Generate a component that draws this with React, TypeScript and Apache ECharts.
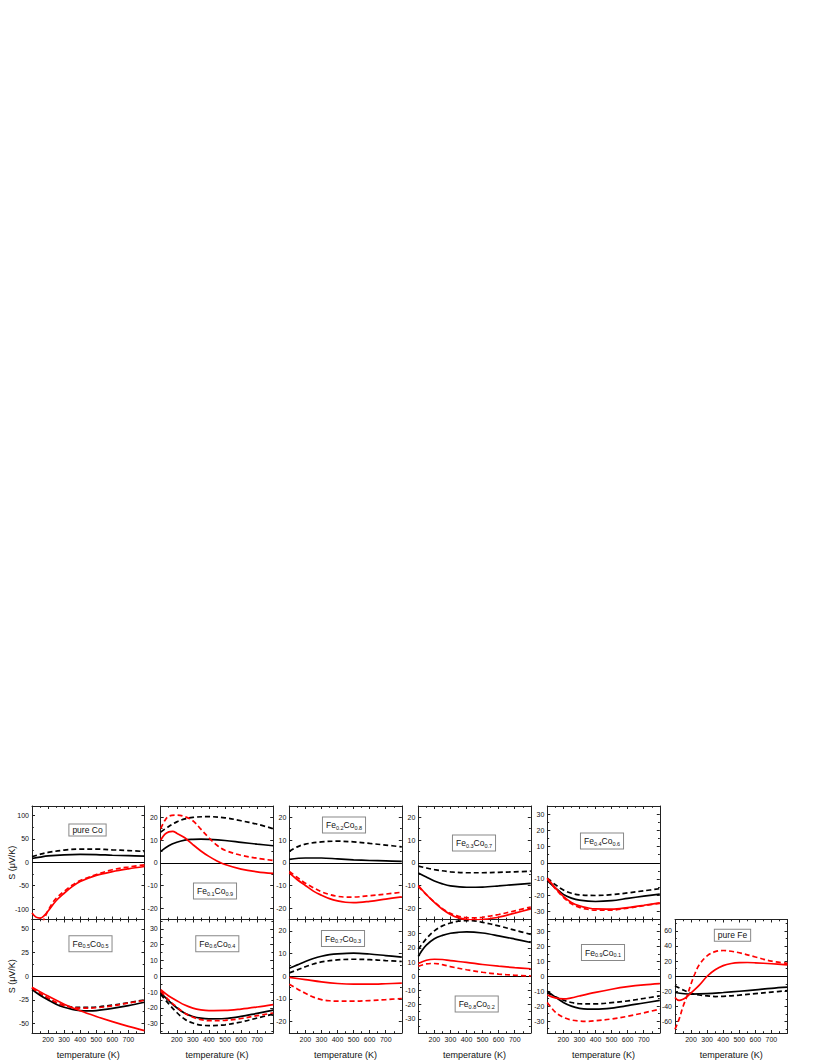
import React, { useEffect, useRef } from "react";
import * as echarts from "echarts";

const FONT = 'Arial, "Liberation Sans", Helvetica, sans-serif';

// ---- x axis (temperature, K) ----
const xMajorTicks = [100, 200, 300, 400, 500, 600, 700, 800];
const xMinorTicks = [150, 250, 350, 450, 550, 650, 750];
const xTickLabels = [200, 300, 400, 500, 600, 700];

// ---- y tick sets ----
const yTicksCo = [-100, -50, 0, 50, 100];
const yMinorCo = [-75, -25, 25, 75];
const yTicks20 = [-20, -10, 0, 10, 20];
const yMinor20 = [-25, -15, -5, 5, 15, 25];
const yTicks30 = [-30, -20, -10, 0, 10, 20, 30];
const yMinor30 = [-35, -25, -15, -5, 5, 15, 25, 35];
const yTicks50 = [-50, -25, 0, 25, 50];
const yMinor50 = [-37.5, -12.5, 12.5, 37.5];
const yTicksFe = [-60, -40, -20, 0, 20, 40, 60];
const yMinorFe = [-70, -50, -30, -10, 10, 30, 50, 70];

// ---- y ranges ----
const rangeCo = [-122, 120];
const range25 = [-25, 25];
const range35 = [-35, 35];
const range60 = [-60, 60];
const range36 = [-36, 36];
const range40 = [-40, 40];
const range38 = [-38, 38];
const rangeFe = [-75, 75];

// ---- pure Co ----
const coBlackSolid = [[100, 8], [150, 11], [200, 13.5], [300, 16], [400, 17], [500, 16.5], [600, 15], [700, 14], [800, 13]];
const coBlackDash = [[100, 12], [150, 17], [200, 21], [300, 26], [400, 28], [500, 28], [600, 26.5], [700, 25], [800, 23]];
const coRedSolid = [[100, -108], [125, -117], [150, -119], [175, -114], [200, -104], [250, -82], [300, -66], [350, -52], [400, -41], [500, -28], [600, -20], [700, -14], [800, -9]];
const coRedDash = [[165, -130], [180, -117], [200, -103], [225, -88], [250, -77], [300, -62], [350, -49], [400, -39], [500, -26], [600, -16], [700, -10], [800, -5.5]];

// ---- Fe0.1Co0.9 ----
const fe1BlackSolid = [[100, 5], [150, 7.5], [200, 9], [250, 10], [300, 10.3], [350, 10.4], [400, 10.3], [500, 9.8], [600, 9], [700, 8.2], [800, 7.5]];
const fe1BlackDash = [[100, 13.5], [150, 16], [200, 18], [250, 19.3], [300, 20], [400, 20.3], [500, 19.8], [600, 18.5], [700, 17], [800, 15]];
const fe1RedSolid = [[100, 10], [125, 12.5], [150, 13.6], [175, 13.8], [200, 13], [250, 11], [300, 8], [350, 5.2], [400, 2.8], [450, 0.8], [500, -0.8], [600, -2.8], [700, -4], [800, -4.7]];
const fe1RedDash = [[100, 15], [125, 18.5], [150, 20.5], [200, 21], [250, 20.3], [300, 18.5], [350, 14.8], [400, 11], [450, 7.7], [500, 5.5], [600, 3.3], [700, 2], [800, 1]];

// ---- Fe0.2Co0.8 ----
const fe2BlackSolid = [[100, 1.5], [200, 2.1], [300, 2.1], [400, 1.7], [500, 1.3], [600, 1], [700, 0.8], [800, 0.6]];
const fe2BlackDash = [[100, 5], [150, 7], [200, 8.2], [300, 9.2], [400, 9.5], [500, 9.2], [600, 8.5], [700, 7.8], [800, 7]];
const fe2RedSolid = [[100, -4.5], [150, -7.5], [200, -10], [250, -12.5], [300, -14.3], [350, -15.8], [400, -16.8], [450, -17.4], [500, -17.6], [600, -17], [700, -16], [800, -15]];
const fe2RedDash = [[100, -3.8], [150, -6.5], [200, -9], [250, -11], [300, -12.8], [350, -14], [400, -14.8], [450, -15.1], [500, -15.1], [600, -14.5], [700, -13.8], [800, -13]];

// ---- Fe0.3Co0.7 ----
const fe3BlackSolid = [[100, -4.5], [150, -6.3], [200, -8], [250, -9.3], [300, -10.2], [400, -10.8], [500, -10.7], [600, -10.2], [700, -9.6], [800, -9.1]];
const fe3BlackDash = [[100, -1.5], [150, -2.3], [200, -3], [300, -4], [400, -4.4], [500, -4.4], [600, -4.2], [700, -4], [800, -3.7]];
const fe3RedSolid = [[100, -10], [150, -14], [200, -17.5], [250, -20.5], [300, -22.8], [350, -24.3], [400, -25], [450, -25.2], [500, -25], [600, -24], [700, -22.2], [800, -20.3]];
const fe3RedDash = [[100, -10.5], [150, -14], [200, -17.3], [250, -20.2], [300, -22.3], [350, -23.6], [400, -24.2], [450, -24.3], [500, -24], [600, -22.8], [700, -21.2], [800, -19.5]];

// ---- Fe0.4Co0.6 ----
const fe4BlackSolid = [[100, -11], [150, -15.5], [200, -19.5], [250, -21.8], [300, -23.1], [400, -23.9], [500, -23.4], [600, -22], [700, -20.6], [800, -19.3]];
const fe4BlackDash = [[100, -9.5], [150, -13.5], [200, -16.8], [250, -18.8], [300, -19.8], [400, -20.2], [500, -19.7], [600, -18.6], [700, -17.3], [800, -16]];
const fe4RedSolid = [[100, -9.5], [150, -15.5], [200, -20.8], [250, -24.5], [300, -26.6], [350, -27.8], [400, -28.5], [500, -28.6], [600, -27.6], [700, -26.2], [800, -24.7]];
const fe4RedDash = [[100, -10], [150, -16], [200, -21.3], [250, -25.3], [300, -27.5], [350, -28.7], [400, -29.3], [500, -29.2], [600, -28], [700, -26.5], [800, -25]];

// ---- Fe0.5Co0.5 ----
const fe5BlackSolid = [[100, -14], [150, -20], [200, -25], [250, -29.5], [300, -32.8], [350, -35], [400, -36.3], [450, -36.6], [500, -36.3], [600, -34], [700, -31], [800, -27.5]];
const fe5BlackDash = [[100, -12.5], [150, -18.5], [200, -23.5], [250, -28], [300, -31], [350, -32.5], [400, -33], [500, -32.5], [600, -30.5], [700, -28], [800, -25]];
const fe5RedSolid = [[100, -11.5], [200, -21], [300, -29.5], [400, -36.5], [500, -42.5], [600, -48], [700, -53], [800, -57.5]];
const fe5RedDash = [[100, -12.5], [150, -18], [200, -23], [250, -27.5], [300, -31], [350, -33], [400, -33.8], [500, -33.3], [600, -31.3], [700, -28.3], [800, -25.5]];

// ---- Fe0.6Co0.4 ----
const fe6BlackSolid = [[100, -10.5], [150, -15.5], [200, -20], [250, -23.5], [300, -25.5], [350, -26.6], [400, -27], [500, -26.8], [600, -25.5], [700, -23.5], [800, -21.5]];
const fe6BlackDash = [[100, -11.5], [150, -17.5], [200, -23], [250, -27.3], [300, -29.7], [350, -31], [400, -31.3], [500, -30.8], [600, -29], [700, -26.5], [800, -24]];
const fe6RedSolid = [[100, -8.5], [150, -12.5], [200, -15.5], [250, -18.3], [300, -20.2], [350, -21.3], [400, -21.8], [500, -21.7], [600, -20.8], [700, -19.5], [800, -18]];
const fe6RedDash = [[100, -9.5], [150, -15], [200, -19.5], [250, -23.5], [300, -26], [350, -27.5], [400, -28.2], [500, -28], [600, -26.8], [700, -25], [800, -23.3]];

// ---- Fe0.7Co0.3 ----
const fe7BlackSolid = [[100, 3.5], [150, 5], [200, 6.5], [250, 7.8], [300, 8.8], [350, 9.5], [400, 9.9], [500, 10.2], [600, 9.8], [700, 9.1], [800, 8.4]];
const fe7BlackDash = [[100, 1.5], [150, 2.8], [200, 4.2], [250, 5.4], [300, 6.3], [400, 7.2], [500, 7.5], [600, 7.3], [700, 6.9], [800, 6.5]];
const fe7RedSolid = [[100, -0.5], [200, -1.5], [300, -2.5], [400, -3.2], [500, -3.5], [600, -3.5], [700, -3.3], [800, -3]];
const fe7RedDash = [[100, -3.5], [150, -5.6], [200, -7.5], [250, -9.2], [300, -10.3], [350, -10.8], [400, -11], [500, -11], [600, -10.7], [700, -10.3], [800, -9.8]];

// ---- Fe0.8Co0.2 ----
const fe8BlackSolid = [[100, 14], [125, 18.5], [150, 22], [200, 26.5], [250, 28.8], [300, 30.3], [350, 31], [400, 31.3], [500, 30.5], [600, 28.5], [700, 26.2], [800, 23.8]];
const fe8BlackDash = [[100, 19], [150, 26.5], [200, 32], [250, 35.5], [300, 37.5], [350, 38.8], [400, 39.2], [450, 39], [500, 38], [600, 35.5], [700, 32.5], [800, 29.5]];
const fe8RedSolid = [[100, 9], [150, 11.3], [200, 12], [250, 11.8], [300, 11], [400, 9.8], [500, 8.3], [600, 7.1], [700, 6.1], [800, 5.3]];
const fe8RedDash = [[100, 7], [150, 8.7], [200, 9], [250, 8.2], [300, 6.8], [400, 4.6], [500, 2.8], [600, 1.5], [700, 0.7], [800, 0.2]];

// ---- Fe0.9Co0.1 ----
const fe9BlackSolid = [[100, -10], [150, -14], [200, -17.5], [250, -20], [300, -21.5], [350, -22], [400, -22], [500, -21.3], [600, -19.7], [700, -17.9], [800, -16.2]];
const fe9BlackDash = [[100, -11], [150, -13.8], [200, -16], [250, -17.6], [300, -18.4], [400, -18.5], [500, -17.7], [600, -16.5], [700, -14.9], [800, -13.2]];
const fe9RedSolid = [[100, -12.5], [150, -14.5], [200, -15.2], [250, -14.5], [300, -13.2], [400, -10.8], [500, -8.7], [600, -7], [700, -5.8], [800, -5]];
const fe9RedDash = [[100, -17.5], [150, -24], [200, -27.5], [250, -29.3], [300, -30], [350, -30.2], [400, -29.8], [500, -28.6], [600, -26.8], [700, -24.5], [800, -22]];

// ---- pure Fe ----
const feBlackSolid = [[100, -21.5], [200, -23.5], [300, -23], [400, -21.5], [500, -19.8], [600, -18], [700, -16], [800, -14.5]];
const feBlackDash = [[100, -12.5], [150, -18], [200, -22.5], [250, -24.8], [300, -26], [350, -26.8], [400, -26.5], [500, -25], [600, -23], [700, -21], [800, -19]];
const feRedSolid = [[100, -28], [125, -32], [150, -30.5], [175, -27], [200, -22], [250, -12], [300, 0], [350, 8.5], [400, 14], [450, 16.8], [500, 18], [550, 18.2], [600, 17.8], [700, 16.5], [800, 15]];
const feRedDash = [[100, -70], [125, -57], [150, -40], [175, -26], [200, -10], [225, 4], [250, 15], [300, 27], [350, 32.5], [400, 34], [450, 33], [500, 31], [600, 25.5], [700, 20], [800, 17]];

// ---- panel labels ----
const labelCo = [["pure Co", ""]];
const labelFe1 = [["Fe", "0.1"], ["Co", "0.9"]];
const labelFe2 = [["Fe", "0.2"], ["Co", "0.8"]];
const labelFe3 = [["Fe", "0.3"], ["Co", "0.7"]];
const labelFe4 = [["Fe", "0.4"], ["Co", "0.6"]];
const labelFe5 = [["Fe", "0.5"], ["Co", "0.5"]];
const labelFe6 = [["Fe", "0.6"], ["Co", "0.4"]];
const labelFe7 = [["Fe", "0.7"], ["Co", "0.3"]];
const labelFe8 = [["Fe", "0.8"], ["Co", "0.2"]];
const labelFe9 = [["Fe", "0.9"], ["Co", "0.1"]];
const labelFe = [["pure Fe", ""]];

const yTitle = "S (μV/K)";
const xTitle = "temperature (K)";

// ---- layout ----
const COL_LEFT = [32, 160.7, 289.3, 418.3, 547.3, 675];
const ROW_TOP = [806, 919.5];
const PW = 112.5;
const PH = 113.5;

const panels = [
  { col: 0, row: 0, range: rangeCo, ticks: yTicksCo, minor: yMinorCo, s: [coBlackSolid, coBlackDash, coRedSolid, coRedDash], label: labelCo, box: [87.5, 830] },
  { col: 1, row: 0, range: range25, ticks: yTicks20, minor: yMinor20, s: [fe1BlackSolid, fe1BlackDash, fe1RedSolid, fe1RedDash], label: labelFe1, box: [215, 891] },
  { col: 2, row: 0, range: range25, ticks: yTicks20, minor: yMinor20, s: [fe2BlackSolid, fe2BlackDash, fe2RedSolid, fe2RedDash], label: labelFe2, box: [344, 825] },
  { col: 3, row: 0, range: range25, ticks: yTicks20, minor: yMinor20, s: [fe3BlackSolid, fe3BlackDash, fe3RedSolid, fe3RedDash], label: labelFe3, box: [474, 843] },
  { col: 4, row: 0, range: range35, ticks: yTicks30, minor: yMinor30, s: [fe4BlackSolid, fe4BlackDash, fe4RedSolid, fe4RedDash], label: labelFe4, box: [602, 841] },
  { col: 0, row: 1, range: range60, ticks: yTicks50, minor: yMinor50, s: [fe5BlackSolid, fe5BlackDash, fe5RedSolid, fe5RedDash], label: labelFe5, box: [90.5, 943.7] },
  { col: 1, row: 1, range: range36, ticks: yTicks30, minor: yMinor30, s: [fe6BlackSolid, fe6BlackDash, fe6RedSolid, fe6RedDash], label: labelFe6, box: [217.3, 943.7] },
  { col: 2, row: 1, range: range25, ticks: yTicks20, minor: yMinor20, s: [fe7BlackSolid, fe7BlackDash, fe7RedSolid, fe7RedDash], label: labelFe7, box: [343, 938.5] },
  { col: 3, row: 1, range: range40, ticks: yTicks30, minor: yMinor30, s: [fe8BlackSolid, fe8BlackDash, fe8RedSolid, fe8RedDash], label: labelFe8, box: [476.7, 1004] },
  { col: 4, row: 1, range: range38, ticks: yTicks30, minor: yMinor30, s: [fe9BlackSolid, fe9BlackDash, fe9RedSolid, fe9RedDash], label: labelFe9, box: [603, 952.5] },
  { col: 5, row: 1, range: rangeFe, ticks: yTicksFe, minor: yMinorFe, s: [feBlackSolid, feBlackDash, feRedSolid, feRedDash], label: labelFe, box: [732.5, 935.3] },
];

const AXIS_COLOR = "#222";

function xAxisDef(gi: number, pos: string, ticks: number[], len: number, line: boolean, labels: number[] | null) {
  return {
    type: "value", gridIndex: gi, min: 100, max: 800, position: pos,
    axisLine: { show: line, onZero: false, lineStyle: { color: AXIS_COLOR, width: 1 } },
    axisTick: { show: true, inside: true, length: len, customValues: ticks, lineStyle: { color: AXIS_COLOR, width: 1 } },
    axisLabel: labels
      ? { show: true, customValues: labels, fontSize: 7, margin: 3, color: "#111", fontFamily: FONT }
      : { show: false },
    splitLine: { show: false },
  };
}

function yAxisDef(gi: number, pos: string, range: number[], ticks: number[], len: number, line: boolean, labels: number[] | null) {
  return {
    type: "value", gridIndex: gi, min: range[0], max: range[1], position: pos,
    axisLine: { show: line, onZero: false, lineStyle: { color: AXIS_COLOR, width: 1 } },
    axisTick: { show: true, inside: true, length: len, customValues: ticks, lineStyle: { color: AXIS_COLOR, width: 1 } },
    axisLabel: labels
      ? { show: true, customValues: labels, fontSize: 7, margin: 3, color: "#111", fontFamily: FONT }
      : { show: false },
    splitLine: { show: false },
  };
}

function richLabel(parts: string[][]) {
  return parts.map(([m, s]) => `{m|${m}}` + (s ? `{s|${s}}` : "")).join("");
}

function buildOption() {
  const grid: any[] = [];
  const xAxis: any[] = [];
  const yAxis: any[] = [];
  const series: any[] = [];
  const graphic: any[] = [];

  panels.forEach((p, i) => {
    const left = COL_LEFT[p.col];
    const top = ROW_TOP[p.row];
    grid.push({ left, top, width: PW, height: PH, containLabel: false });
    const bottomRow = p.row === 1;
    xAxis.push(xAxisDef(i, "bottom", xMajorTicks, 3, true, bottomRow ? xTickLabels : null));
    xAxis.push(xAxisDef(i, "bottom", xMinorTicks, 1.8, false, null));
    xAxis.push(xAxisDef(i, "top", xMajorTicks, 3, true, null));
    xAxis.push(xAxisDef(i, "top", xMinorTicks, 1.8, false, null));
    yAxis.push(yAxisDef(i, "left", p.range, p.ticks, 3, true, p.ticks));
    yAxis.push(yAxisDef(i, "left", p.range, p.minor, 1.8, false, null));
    yAxis.push(yAxisDef(i, "right", p.range, p.ticks, 3, true, null));
    yAxis.push(yAxisDef(i, "right", p.range, p.minor, 1.8, false, null));

    const styles = [
      { color: "#000", type: "solid" },
      { color: "#000", type: [5, 3] },
      { color: "#ff0000", type: "solid" },
      { color: "#ff0000", type: [5, 3] },
    ];
    p.s.forEach((data, k) => {
      const ser: any = {
        type: "line", xAxisIndex: 4 * i, yAxisIndex: 4 * i, data,
        symbol: "none", showSymbol: false, smooth: 0.35, clip: true, silent: true,
        lineStyle: { color: styles[k].color, width: 1.7, type: styles[k].type },
        z: 3 + k,
      };
      if (k === 0) {
        ser.markLine = {
          silent: true, symbol: ["none", "none"], label: { show: false },
          lineStyle: { color: "#000", width: 1, type: "solid" },
          data: [{ yAxis: 0 }],
        };
      }
      series.push(ser);
    });

    graphic.push({
      type: "text", x: p.box[0], y: p.box[1], z: 10,
      style: {
        text: richLabel(p.label),
        align: "center", verticalAlign: "middle",
        backgroundColor: "#fff", borderColor: "#888", borderWidth: 1,
        padding: p.label[0][1] ? [2, 3, 2, 3] : [1, 3, 1, 3],
        rich: {
          m: { fontSize: 8.5, fontFamily: FONT, fill: "#111", lineHeight: p.label[0][1] ? 11 : 9 },
          s: { fontSize: 5.5, fontFamily: FONT, fill: "#111", lineHeight: 6, verticalAlign: "bottom" },
        },
      },
    });

    if (bottomRow) {
      graphic.push({
        type: "text", x: left + PW / 2, y: 1055,
        style: { text: xTitle, align: "center", verticalAlign: "middle", fontSize: 9, fontFamily: FONT, fill: "#111" },
      });
    }
  });

  ROW_TOP.forEach((t) => {
    graphic.push({
      type: "text", x: 12, y: t + PH / 2, rotation: Math.PI / 2,
      style: { text: yTitle, align: "center", verticalAlign: "middle", fontSize: 9, fontFamily: FONT, fill: "#111" },
    });
  });

  return { animation: false, backgroundColor: "#fff", grid, xAxis, yAxis, series, graphic };
}

export default function App() {
  const ref = useRef<HTMLDivElement>(null);
  useEffect(() => {
    if (!ref.current) return;
    const chart = echarts.init(ref.current, null, { renderer: "svg" });
    chart.setOption(buildOption() as any);
    return () => chart.dispose();
  }, []);
  return (
    <div
      ref={ref}
      style={{ position: "absolute", left: 0, top: 0, width: 822, height: 1064, background: "#fff" }}
    />
  );
}
